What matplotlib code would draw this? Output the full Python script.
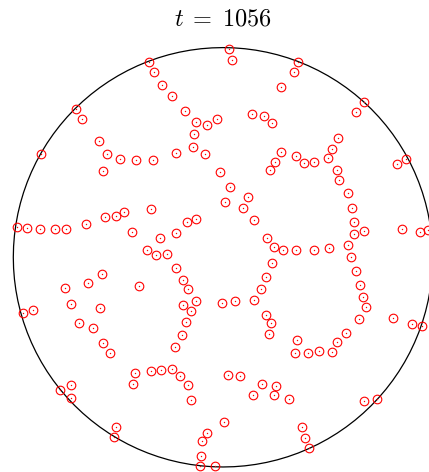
import numpy as np
import matplotlib
matplotlib.use("Agg")
import matplotlib.pyplot as plt

plt.rcParams["mathtext.fontset"] = "cm"

# particle positions inside the unit disk at this time step
time_step = 1056
x = [
    -0.353, -0.329, -0.290, -0.245, -0.183, -0.129, -0.076, -0.030,
    -0.700, -0.672, -0.869, -0.591, -0.555, -0.571, -0.493, -0.415,
    -0.334, -0.223, -0.137, -0.143, -0.086,
    -0.984, -0.933, -0.873, -0.801, -0.749, -0.652, -0.564, -0.509,
    -0.472, -0.345, -0.434, -0.299, -0.224, -0.172, -0.130,
    0.029, 0.043, 0.359, 0.337, 0.277, 0.674, 0.636, 0.137, 0.194, 0.234,
    0.548, 0.521, 0.499, 0.435, 0.386, 0.350, 0.277, 0.249, 0.223,
    -0.014, 0.032, 0.011, 0.119, 0.097, 0.146, 0.208,
    0.544, 0.553, 0.596, 0.615, 0.626, 0.623, 0.674,
    0.874, 0.828, 0.855, 0.938, 0.979,
    -0.364, -0.321, -0.267, -0.226, -0.192, -0.167, -0.129, -0.189,
    -0.153, -0.175, -0.197, -0.229,
    -0.755, -0.644, -0.578, -0.399, -0.726, -0.585, -0.954, -0.905,
    -0.688, -0.620, -0.572, -0.540,
    -0.421, -0.431, -0.342, -0.296, -0.242, -0.204, -0.166, -0.153,
    -0.776, -0.723, -0.726, -0.510, -0.518,
    -0.078, -0.100, -0.104, -0.108, -0.037,
    0.243, 0.288, 0.350, 0.434, 0.506, 0.596,
    0.610, 0.633, 0.655, 0.668, 0.683, 0.647, 0.587, 0.542, 0.521,
    0.459, 0.404, 0.342, 0.352,
    0.235, 0.207, 0.183, 0.148, -0.005, 0.056, 0.204, 0.230, 0.218,
    0.811, 0.900, 0.948,
    0.025, 0.083, 0.187, 0.253, 0.145, 0.242, 0.313, 0.672, 0.734,
    0.005, 0.377, 0.393, 0.412,
]
y = [
    0.931, 0.884, 0.823, 0.768, 0.696, 0.645, 0.632, 0.658,
    0.707, 0.658, 0.491, 0.553, 0.493, 0.413, 0.470, 0.465,
    0.464, 0.499, 0.587, 0.526, 0.494,
    0.143, 0.141, 0.136, 0.134, 0.136, 0.160, 0.194, 0.196,
    0.216, 0.232, 0.122, 0.091, 0.117, 0.167, 0.184,
    0.995, 0.942, 0.931, 0.885, 0.811, 0.739, 0.694, 0.682, 0.675, 0.642,
    0.570, 0.518, 0.472, 0.456, 0.450, 0.485, 0.504, 0.456, 0.415,
    0.407, 0.334, 0.262, 0.286, 0.237, 0.178, 0.094,
    0.415, 0.369, 0.305, 0.234, 0.170, 0.113, 0.127,
    0.470, 0.444, 0.134, 0.122, 0.130,
    0.036, 0.012, 0.014, -0.050, -0.110, -0.153, -0.208, -0.226,
    -0.256, -0.310, -0.369, -0.426,
    -0.148, -0.123, -0.081, -0.137, -0.224, -0.242, -0.267, -0.251,
    -0.315, -0.339, -0.407, -0.455,
    -0.553, -0.606, -0.542, -0.537, -0.534, -0.568, -0.608, -0.682,
    -0.631, -0.610, -0.671, -0.808, -0.856,
    -0.836, -0.877, -0.946, -0.995, -0.995,
    0.048, 0.033, 0.033, 0.036, 0.043, 0.057,
    0.000, -0.064, -0.131, -0.189, -0.237, -0.293, -0.362, -0.405, -0.452,
    -0.447, -0.458, -0.456, -0.396,
    -0.026, -0.094, -0.153, -0.202, -0.218, -0.210, -0.277, -0.315, -0.364,
    -0.288, -0.317, -0.326,
    -0.560, -0.566, -0.606, -0.614, -0.658, -0.658, -0.676, -0.687, -0.676,
    -0.784, -0.811, -0.862, -0.911,
]

fig = plt.figure(figsize=(4.29, 4.72), dpi=100)
ax = fig.add_axes([0.031, 0.0106, 0.9776, 0.8886])
ax.set_xlim(-1, 1)
ax.set_ylim(-1, 1)
ax.set_aspect("equal")
ax.axis("off")

# container wall
theta = np.linspace(0, 2 * np.pi, 121)
ax.plot(np.cos(theta), np.sin(theta), color="black", lw=0.9, clip_on=False)

# particles: outline plus centre dot
ax.plot(x, y, linestyle="none", marker="o", ms=6.2, mfc="none",
        mec="red", mew=0.8, clip_on=False)
ax.plot(x, y, linestyle="none", marker="o", ms=1.0, mfc="red",
        mec="red", mew=0.0, clip_on=False)

fig.text(223 / 429, 1 - 19 / 472, rf"$t\;=\;{time_step}$", ha="center",
         va="center", fontsize=17.5)

fig.savefig("out.png", dpi=100)
